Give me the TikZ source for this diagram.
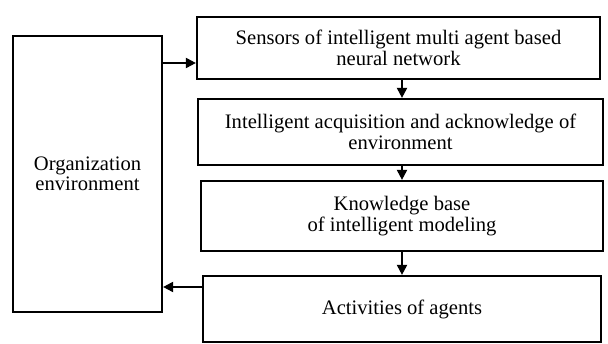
\documentclass[tikz,border=0pt]{standalone}
\usepackage{fontspec}
\setmainfont{Liberation Serif}
\usetikzlibrary{arrows.meta}
\begin{document}
\begin{tikzpicture}[x=1pt,y=-1pt,
  blk/.style={draw=black,line width=2.2pt,rectangle,inner sep=2pt,align=center,
    font=\fontsize{20.6}{20.5}\selectfont},
  arr/.style={line width=2pt,-{Triangle[length=10pt,width=10pt]}}]
\useasboundingbox (0,0) rectangle (608,344);
\node[blk,minimum width=149pt,minimum height=276pt] (org) at (87.5,174) {Organization\\environment};
\node[blk,minimum width=403pt,minimum height=62pt] (b1) at (398.5,48) {Sensors of intelligent multi agent based\\neural network};
\node[blk,minimum width=405pt,minimum height=66pt] (b2) at (400.5,132) {Intelligent acquisition and acknowledge of\\environment};
\node[blk,minimum width=402pt,minimum height=70pt] (b3) at (402,216) {Knowledge base\\of intelligent modeling};
\node[blk,minimum width=398pt,minimum height=66pt] (b4) at (402,309) {Activities of agents};
\coordinate (ya) at (0,63);
\coordinate (yb) at (0,287);
\coordinate (xv) at (402,0);
\draw[arr] (org.east |- ya) -- (b1.west |- ya);
\draw[arr] (b1.south -| xv) -- (b2.north -| xv);
\draw[arr] (b2.south -| xv) -- (b3.north -| xv);
\draw[arr] (b3.south -| xv) -- (b4.north -| xv);
\draw[arr] (b4.west |- yb) -- (org.east |- yb);
\end{tikzpicture}
\end{document}
